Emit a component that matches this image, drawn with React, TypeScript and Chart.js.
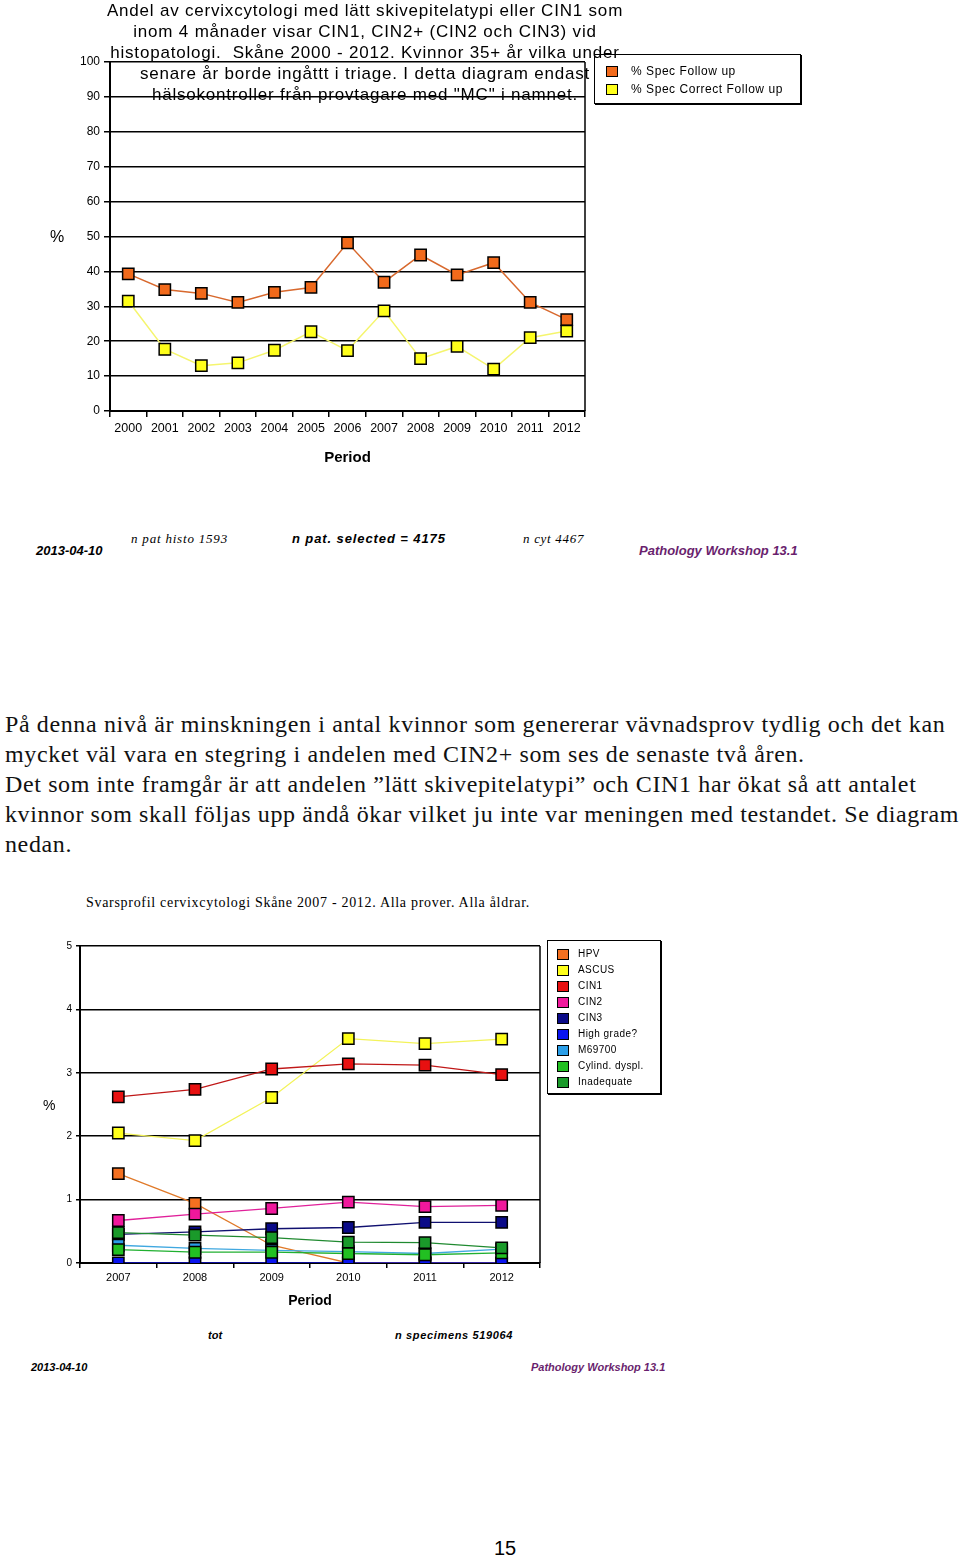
import React, { useEffect, useRef } from "react";
import { Chart, registerables } from "chart.js";

Chart.register(...registerables);

const SANS = "'Liberation Sans', Arial, sans-serif";
const SERIF = "'Liberation Serif', 'Times New Roman', serif";

// ---------- Chart 1 data ----------
const years1 = ["2000", "2001", "2002", "2003", "2004", "2005", "2006", "2007", "2008", "2009", "2010", "2011", "2012"];
const specFollowUp = [39.3, 34.8, 33.7, 31.1, 34.0, 35.4, 48.2, 36.9, 44.7, 39.0, 42.5, 31.1, 26.2];
const specCorrectFollowUp = [31.5, 17.7, 13.0, 13.8, 17.4, 22.7, 17.3, 28.7, 15.0, 18.5, 12.0, 21.0, 22.9];
const seriesNames1 = ["% Spec Follow up", "% Spec Correct Follow up"];
const yTicks1 = [0, 10, 20, 30, 40, 50, 60, 70, 80, 90, 100];

// ---------- Chart 2 data ----------
const years2 = ["2007", "2008", "2009", "2010", "2011", "2012"];
const hpv = [1.41, 0.94, 0.28, 0, 0, 0];
const ascus = [2.05, 1.93, 2.61, 3.54, 3.46, 3.53];
const cin1 = [2.62, 2.74, 3.06, 3.14, 3.12, 2.97];
const cin2 = [0.67, 0.77, 0.86, 0.96, 0.89, 0.91];
const cin3 = [0.45, 0.49, 0.54, 0.56, 0.64, 0.64];
const highGrade = [0, 0, 0, 0, 0, 0];
const m69700 = [0.28, 0.23, 0.2, 0.18, 0.15, 0.22];
const cylindDyspl = [0.21, 0.17, 0.17, 0.15, 0.13, 0.16];
const inadequate = [0.48, 0.44, 0.4, 0.33, 0.32, 0.24];
const seriesNames2 = ["HPV", "ASCUS", "CIN1", "CIN2", "CIN3", "High grade?", "M69700", "Cylind. dyspl.", "Inadequate"];
const yTicks2 = [0, 1, 2, 3, 4, 5];

const colors1 = [
  { line: "#d8692e", fill: "#f26a1b" },
  { line: "#f5f56e", fill: "#ffff1a" },
];
const colors2 = [
  { line: "#e07a2a", fill: "#f47020" },
  { line: "#f3f35a", fill: "#ffff1a" },
  { line: "#c01818", fill: "#e81010" },
  { line: "#e0209a", fill: "#f0189c" },
  { line: "#101070", fill: "#0a0a88" },
  { line: "#1010d0", fill: "#0a14f0" },
  { line: "#40a8e0", fill: "#2a9ee8" },
  { line: "#20b030", fill: "#22c022" },
  { line: "#208a30", fill: "#1a9a2a" },
];

const framePlugin = {
  id: "frameRight",
  afterDraw(chart: any) {
    const { ctx, chartArea } = chart;
    ctx.save();
    ctx.strokeStyle = "#000";
    ctx.lineWidth = 1.5;
    ctx.beginPath();
    ctx.moveTo(chartArea.right, chartArea.top);
    ctx.lineTo(chartArea.right, chartArea.bottom);
    ctx.stroke();
    ctx.restore();
  },
};

function makeDataset(label: string, data: number[], c: { line: string; fill: string }, order: number, lw: number) {
  return {
    label,
    data,
    borderColor: c.line,
    backgroundColor: c.fill,
    borderWidth: lw,
    pointStyle: "rect",
    pointRadius: 8,
    pointBackgroundColor: c.fill,
    pointBorderColor: "#000",
    pointBorderWidth: 1.5,
    tension: 0,
    order,
  };
}

function Chart1() {
  const ref = useRef<HTMLCanvasElement | null>(null);
  useEffect(() => {
    if (!ref.current) return;
    const series = [specFollowUp, specCorrectFollowUp];
    const chart = new Chart(ref.current, {
      type: "line",
      data: {
        labels: years1,
        datasets: series.map((d, i) => makeDataset(seriesNames1[i], d, colors1[i], series.length - i, 1.5)) as any,
      },
      options: {
        responsive: false,
        animation: false,
        layout: { padding: { left: 40, right: 235, top: 62, bottom: 9 } },
        plugins: { legend: { display: false }, tooltip: { enabled: false }, title: { display: false } },
        scales: {
          x: {
            type: "category",
            offset: true,
            grid: { offset: true, drawOnChartArea: false, drawTicks: true, tickLength: 6, color: "#000", lineWidth: 1.5 },
            border: { color: "#000", width: 2 },
            ticks: { color: "#000", font: { family: SANS, size: 12.5 }, padding: 4, maxRotation: 0, autoSkip: false },
            title: { display: true, text: "Period", color: "#000", font: { family: SANS, size: 15, weight: "bold" }, padding: { top: 0, bottom: 4 } },
            afterFit: (s: any) => { s.height = 60; },
          },
          y: {
            min: 0,
            max: 100,
            afterBuildTicks: (s: any) => { s.ticks = yTicks1.map((v) => ({ value: v })); },
            grid: { color: "#000", lineWidth: 1.5, tickLength: 6 },
            border: { color: "#000", width: 2 },
            ticks: { color: "#000", font: { family: SANS, size: 12 }, padding: 4 },
            afterFit: (s: any) => { s.width = 70; },
          },
        },
      } as any,
      plugins: [framePlugin],
    });
    return () => chart.destroy();
  }, []);
  return <canvas ref={ref} width={820} height={480} style={{ position: "absolute", left: 0, top: 0, width: 820, height: 480 }} />;
}

function Chart2() {
  const ref = useRef<HTMLCanvasElement | null>(null);
  useEffect(() => {
    if (!ref.current) return;
    const series = [hpv, ascus, cin1, cin2, cin3, highGrade, m69700, cylindDyspl, inadequate];
    const chart = new Chart(ref.current, {
      type: "line",
      data: {
        labels: years2,
        datasets: series.map((d, i) => makeDataset(seriesNames2[i], d, colors2[i], series.length - i, 1.3)) as any,
      },
      options: {
        responsive: false,
        animation: false,
        layout: { padding: { left: 40, right: 160, top: 16, bottom: 7 } },
        plugins: { legend: { display: false }, tooltip: { enabled: false }, title: { display: false } },
        scales: {
          x: {
            type: "category",
            offset: true,
            grid: { offset: true, drawOnChartArea: false, drawTicks: true, tickLength: 5, color: "#000", lineWidth: 1.5 },
            border: { color: "#000", width: 2 },
            ticks: { color: "#000", font: { family: SANS, size: 11 }, padding: 3, maxRotation: 0, autoSkip: false },
            title: { display: true, text: "Period", color: "#000", font: { family: SANS, size: 14, weight: "bold" }, padding: { top: 0, bottom: 3 } },
            afterFit: (s: any) => { s.height = 50; },
          },
          y: {
            min: 0,
            max: 5,
            afterBuildTicks: (s: any) => { s.ticks = yTicks2.map((v) => ({ value: v })); },
            grid: { color: "#000", lineWidth: 1.5, tickLength: 4 },
            border: { color: "#000", width: 2 },
            ticks: { color: "#000", font: { family: SANS, size: 10 }, padding: 4 },
            afterFit: (s: any) => { s.width = 40; },
          },
        },
      } as any,
      plugins: [framePlugin],
    });
    return () => chart.destroy();
  }, []);
  return <canvas ref={ref} width={700} height={390} style={{ position: "absolute", left: 0, top: 930, width: 700, height: 390 }} />;
}

function T(props: { x: number; y: number; size: number; family?: string; italic?: boolean; bold?: boolean; color?: string; ls?: number; children: React.ReactNode }) {
  const { x, y, size, family = SANS, italic, bold, color = "#000", ls = 0, children } = props;
  return (
    <div
      style={{
        position: "absolute",
        left: x,
        top: y - size / 2 - 1,
        fontFamily: family,
        fontSize: size,
        lineHeight: `${size + 2}px`,
        fontStyle: italic ? "italic" : "normal",
        fontWeight: bold ? "bold" : "normal",
        letterSpacing: ls ? `${ls}px` : undefined,
        color,
        whiteSpace: "nowrap",
      }}
    >
      {children}
    </div>
  );
}

function Legend(props: { x: number; y: number; w: number; h: number; names: string[]; colors: { fill: string }[]; firstY: number; step: number; sqX: number; txtX: number; size: number; ls: number }) {
  const { x, y, w, h, names, colors, firstY, step, sqX, txtX, size, ls } = props;
  return (
    <div>
      <div style={{ position: "absolute", left: x, top: y, width: w, height: h, border: "1px solid #000", boxShadow: "1px 1px 0 #000", background: "transparent" }} />
      {names.map((n, i) => (
        <React.Fragment key={n}>
          <div style={{ position: "absolute", left: sqX, top: firstY + i * step - 5, width: 10, height: 9, background: colors[i].fill, border: "1.5px solid #000" }} />
          <T x={txtX} y={firstY + i * step} size={size} ls={ls}>{n}</T>
        </React.Fragment>
      ))}
    </div>
  );
}

const titleLines1 = [
  "Andel av cervixcytologi med lätt skivepitelatypi eller CIN1 som",
  "inom 4 månader visar CIN1, CIN2+ (CIN2 och CIN3) vid",
  "histopatologi.  Skåne 2000 - 2012. Kvinnor 35+ år vilka under",
  "senare år borde ingåttt i triage. I detta diagram endast",
  "hälsokontroller från provtagare med \"MC\" i namnet.",
];

const bodyLines = [
  "På denna nivå är minskningen i antal kvinnor som genererar vävnadsprov tydlig och det kan",
  "mycket väl vara en stegring i andelen med CIN2+ som ses de senaste två åren.",
  "Det som inte framgår är att andelen ”lätt skivepitelatypi” och CIN1 har ökat så att antalet",
  "kvinnor som skall följas upp ändå ökar vilket ju inte var meningen med testandet. Se diagram",
  "nedan.",
];

export default function App() {
  useEffect(() => {
    document.body.style.background = "#fff";
  }, []);
  return (
    <div style={{ position: "absolute", left: 0, top: 0, width: 960, height: 1561, background: "#fff", overflow: "hidden" }}>
      <Chart1 />
      <div style={{ position: "absolute", left: 0, top: 0, width: 730, textAlign: "center", fontFamily: SANS, fontSize: 17, lineHeight: "21px", letterSpacing: "0.8px", color: "#000", whiteSpace: "pre" }}>
        {titleLines1.map((l) => <div key={l}>{l}</div>)}
      </div>
      <Legend x={594} y={54} w={205} h={48} names={seriesNames1} colors={colors1} firstY={71} step={18} sqX={606} txtX={631} size={12} ls={0.55} />
      <T x={50} y={237} size={16}>%</T>

      <T x={131} y={538} size={13} family={SERIF} italic ls={0.8}>n pat histo 1593</T>
      <T x={292} y={538} size={13} italic bold ls={0.9}>n pat. selected =  4175</T>
      <T x={523} y={538} size={13} family={SERIF} italic ls={0.7}>n cyt 4467</T>
      <T x={36} y={550} size={13} italic bold>2013-04-10</T>
      <T x={639} y={550} size={13} italic bold color="#6a1f6e">Pathology Workshop 13.1</T>

      <div style={{ position: "absolute", left: 5, top: 709, fontFamily: SERIF, fontSize: 24, lineHeight: "30px", letterSpacing: "0.62px", color: "#111", whiteSpace: "nowrap" }}>
        {bodyLines.map((l) => <div key={l}>{l}</div>)}
      </div>

      <T x={86} y={903} size={14} family={SERIF} ls={0.7}>Svarsprofil cervixcytologi Skåne 2007 - 2012. Alla prover. Alla åldrar.</T>

      <Chart2 />
      <Legend x={547} y={940} w={112} h={152} names={seriesNames2} colors={colors2} firstY={954} step={16} sqX={557} txtX={578} size={10} ls={0.45} />
      <T x={43} y={1105} size={14}>%</T>

      <T x={208} y={1335} size={11} italic bold>tot</T>
      <T x={395} y={1335} size={11} italic bold ls={0.65}>n specimens 519064</T>
      <T x={31} y={1367} size={11} italic bold>2013-04-10</T>
      <T x={531} y={1367} size={11} italic bold color="#6a1f6e">Pathology Workshop 13.1</T>

      <T x={494} y={1548} size={20}>15</T>
    </div>
  );
}
